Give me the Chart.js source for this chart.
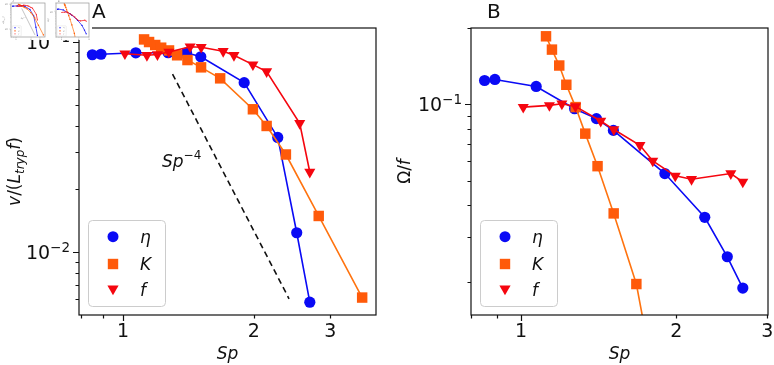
<!DOCTYPE html>
<html>
<head>
<meta charset="utf-8">
<script src="https://cdn.jsdelivr.net/npm/chart.js@4.4.1/dist/chart.umd.min.js"></script>
<style>
  body { margin: 0; background: #fff; }
  #wrap { position: relative; width: 774px; height: 365px; overflow: hidden; }
  .panel { position: absolute; top: 0; width: 387px; height: 365px; }
  #thumbs { position: absolute; left: 0; top: 0; width: 92px; height: 40px; background: #fff; }
  #thumbs canvas { position: absolute; top: 0; }
</style>
</head>
<body>
<div id="wrap">
  <div class="panel" style="left:0"><canvas id="chartA" width="387" height="365"></canvas></div>
  <div class="panel" style="left:387px"><canvas id="chartB" width="387" height="365"></canvas></div>
  <div id="thumbs">
    <canvas id="miniA" width="46" height="40" style="left:0"></canvas>
    <canvas id="miniB" width="46" height="40" style="left:46px"></canvas>
  </div>
</div>
<script>
// --- data ---
const etaSp = [0.85, 0.89, 1.07, 1.27, 1.40, 1.51, 1.90, 2.27, 2.51, 2.69];
const etaSpeed = [0.0870, 0.0875, 0.0889, 0.0890, 0.0889, 0.0851, 0.0641, 0.0352, 0.0124, 0.0058];
const etaOmega = [0.1242, 0.1254, 0.1177, 0.0962, 0.0879, 0.0790, 0.0534, 0.0359, 0.0251, 0.0189];

const kSp = [1.118, 1.148, 1.186, 1.224, 1.276, 1.332, 1.407, 1.512, 1.673, 1.99, 2.14, 2.37, 2.82, 3.55];
const kSpeed = [0.1029, 0.1000, 0.0968, 0.0940, 0.0912, 0.0865, 0.0821, 0.0758, 0.0672, 0.0479, 0.0399, 0.0292, 0.0149, 0.0061];
const kOmega = [0.1855, 0.1644, 0.1423, 0.1195, 0.0976, 0.0767, 0.0571, 0.0372, 0.0196, 0.0030, 0.0022, 0.0016, 0.0010, 0.0006];

const fSp = [1.01, 1.135, 1.20, 1.275, 1.427, 1.513, 1.70, 1.80, 1.99, 2.14, 2.55, 2.69];
const fSpeed = [0.0880, 0.0865, 0.0872, 0.0897, 0.0950, 0.0945, 0.0904, 0.0865, 0.0781, 0.0724, 0.0411, 0.0241];
const fOmega = [0.0976, 0.0991, 0.1006, 0.0982, 0.0860, 0.0796, 0.0690, 0.0599, 0.0523, 0.0507, 0.0534, 0.0495];

// Sp^-4 guide line (panel A)
const guideSp = [1.30, 2.41];
const guideSpeed = [0.0704, 0.00602];

const seriesNames = ["η", "K", "f"];

// ticks
const xTicksA = [0.8, 0.9, 1, 2, 3];
const xTicksB = [0.8, 0.9, 1, 2, 3];
const xTickLabels = { 1: "1", 2: "2", 3: "3" };
const yTicksA = [0.006, 0.007, 0.008, 0.009, 0.01, 0.02, 0.03, 0.04, 0.05, 0.06, 0.07, 0.08, 0.09, 0.1];
const yTicksB = [0.02, 0.03, 0.04, 0.05, 0.06, 0.07, 0.08, 0.09, 0.1, 0.2];
const yTickLabels = { 0.01: "−2", 0.1: "−1" };

const FONT = '"DejaVu Sans", "Liberation Sans", sans-serif';
const BLUE = "#0a0af5";
const ORANGE = "#ff5a0a";
const ORANGE_LINE = "#ff730f";
const RED = "#f5060f";

function pairs(xs, ys) {
  return xs.map((v, i) => ({ x: v, y: ys[i] }));
}

function setFont(ctx, size, italic) {
  ctx.font = (italic ? "italic " : "") + size + "px " + FONT;
}

// parts: [text, size, italic, rise]; k scales everything (1 = full figure)
function drawRich(ctx, parts, x, y, align, k) {
  let total = 0;
  parts.forEach((p) => {
    setFont(ctx, p[1] * k, p[2]);
    total += ctx.measureText(p[0]).width;
  });
  let cx = align === "center" ? x - total / 2 : align === "right" ? x - total : x;
  parts.forEach((p) => {
    setFont(ctx, p[1] * k, p[2]);
    ctx.fillText(p[0], cx, y - (p[3] || 0) * k);
    cx += ctx.measureText(p[0]).width;
  });
}

function marker(ctx, style, x, y, k) {
  ctx.beginPath();
  if (style === "circle") {
    ctx.arc(x, y, 5.5 * k, 0, Math.PI * 2);
  } else if (style === "rect") {
    ctx.rect(x - 5.2 * k, y - 5.2 * k, 10.4 * k, 10.4 * k);
  } else {
    ctx.moveTo(x - 5.6 * k, y - 4.5 * k);
    ctx.lineTo(x + 5.6 * k, y - 4.5 * k);
    ctx.lineTo(x, y + 5.2 * k);
    ctx.closePath();
  }
  ctx.fill();
}

const axesDecor = {
  id: "axesDecor",
  afterDraw(chart, args, o) {
    const { ctx, chartArea: a } = chart;
    const xs = chart.scales.x;
    const ys = chart.scales.y;
    const k = o.k;
    ctx.save();
    ctx.strokeStyle = o.frameColor;
    ctx.fillStyle = "#111";
    ctx.lineWidth = 1.2 * (k < 1 ? 0.6 : 1);
    ctx.strokeRect(a.left, a.top, a.right - a.left, a.bottom - a.top);

    ctx.beginPath();
    o.xTicks.forEach((v) => {
      const px = k < 1 ? xs.getPixelForValue(v) : Math.round(xs.getPixelForValue(v)) + 0.5;
      const len = (v === 1 ? 6 : 3.5) * k;
      ctx.moveTo(px, a.bottom);
      ctx.lineTo(px, a.bottom + len);
    });
    o.yTicks.forEach((v) => {
      const py = k < 1 ? ys.getPixelForValue(v) : Math.round(ys.getPixelForValue(v)) + 0.5;
      const len = (v === 0.01 || v === 0.1 ? 6 : 3.5) * k;
      ctx.moveTo(a.left, py);
      ctx.lineTo(a.left - len, py);
    });
    ctx.stroke();

    ctx.fillStyle = o.textColor;
    ctx.textAlign = "left";
    ctx.textBaseline = "alphabetic";
    o.xTicks.forEach((v) => {
      if (!xTickLabels[v]) return;
      drawRich(ctx, [[xTickLabels[v], 19, false]], xs.getPixelForValue(v), a.bottom + 22 * k, "center", k);
    });
    o.yTicks.forEach((v) => {
      if (!yTickLabels[v]) return;
      const py = ys.getPixelForValue(v);
      drawRich(ctx, [["10", 19, false], [yTickLabels[v], 13.5, false, 7]], a.left - 9 * k, py + 7 * k, "right", k);
    });

    // axis titles
    drawRich(ctx, [["Sp", 17, true]], (a.left + a.right) / 2, a.bottom + 44 * k, "center", k);
    ctx.save();
    ctx.translate(a.left - o.yTitleDx * k, (a.top + a.bottom) / 2);
    ctx.rotate(-Math.PI / 2);
    drawRich(ctx, o.yTitle, 0, 0, "center", k);
    ctx.restore();

    // panel letter
    drawRich(ctx, [[o.letter, 20, false]], a.left + o.letterDx * k, a.top - 10 * k, "left", k);

    // annotation
    if (o.note) drawRich(ctx, o.note.parts, a.left + o.note.dx * k, a.top + o.note.dy * k, "left", k);

    // legend
    const lx = a.left + 9 * k;
    const ly = a.bottom - 95 * k;
    ctx.beginPath();
    ctx.roundRect(lx + 0.5 * k, ly + 0.5 * k, 77 * k, 86 * k, 4 * k);
    ctx.fillStyle = "rgba(255,255,255,0.8)";
    ctx.fill();
    ctx.strokeStyle = "#cccccc";
    ctx.lineWidth = k < 1 ? 0.3 : 1;
    ctx.stroke();
    const styles = ["circle", "rect", "triangle"];
    const colors = [BLUE, ORANGE, RED];
    const rows = [16.7, 44, 70];
    seriesNames.forEach((name, i) => {
      ctx.fillStyle = colors[i];
      marker(ctx, styles[i], lx + 25 * k, ly + rows[i] * k, k);
      ctx.fillStyle = o.textColor;
      drawRich(ctx, [[name, 17, true]], lx + 52 * k, ly + (rows[i] + 6) * k, "left", k);
    });
    ctx.restore();
  }
};

function seriesDatasets(etaY, kY, fY, k) {
  const lw = k < 1 ? 0.7 : 1.6;
  return [
    {
      data: pairs(etaSp, etaY), borderColor: BLUE, backgroundColor: BLUE,
      borderWidth: lw, pointStyle: "circle", pointRadius: 5.6 * k, pointBorderWidth: 0, order: 3
    },
    {
      data: pairs(kSp, kY), borderColor: ORANGE_LINE, backgroundColor: ORANGE,
      borderWidth: lw, pointStyle: "rect", pointRadius: 7.4 * k, pointBorderWidth: 0, order: 2
    },
    {
      data: pairs(fSp, fY), borderColor: RED, backgroundColor: RED,
      borderWidth: lw, pointStyle: "triangle", pointRotation: 180, pointRadius: 6.4 * k, pointBorderWidth: 0, order: 1
    }
  ];
}

function guideDataset(k) {
  return {
    data: pairs(guideSp, guideSpeed), borderColor: k < 1 ? "#888" : "#111", borderWidth: k < 1 ? 0.5 : 1.6,
    borderDash: k < 1 ? [] : [6, 4], pointRadius: 0, order: 4
  };
}

function makeChart(id, cfg) {
  return new Chart(document.getElementById(id), {
    type: "line",
    data: { datasets: cfg.datasets },
    options: {
      responsive: false,
      animation: false,
      events: [],
      layout: { padding: { left: 0, top: cfg.padTop, right: cfg.padRight, bottom: 0 }, autoPadding: false },
      plugins: { legend: { display: false }, tooltip: { enabled: false }, axesDecor: cfg.decor },
      scales: {
        x: {
          type: "logarithmic", min: cfg.xMin, max: cfg.xMax,
          grid: { display: false, drawTicks: false }, border: { display: false },
          ticks: { display: false },
          afterFit: (s) => { s.height = cfg.xHeight; }
        },
        y: {
          type: "logarithmic", min: cfg.yMin, max: cfg.yMax,
          grid: { display: false, drawTicks: false }, border: { display: false },
          ticks: { display: false },
          afterFit: (s) => { s.width = cfg.yWidth; }
        }
      }
    },
    plugins: [axesDecor]
  });
}

const titleA = [["v", 17, true], ["/(", 17, false], ["L", 17, true], ["tryp", 12, true, -4], ["f", 17, true], [")", 17, false]];
const titleB = [["Ω", 17, false], ["/", 17, false], ["f", 17, true]];
const noteA = { dx: 83, dy: 139, parts: [["Sp", 17, true], ["−4", 12, false, 8]] };

function decorA(k) {
  return {
    k, xTicks: xTicksA, yTicks: yTicksA, letter: "A", letterDx: 13, yTitleDx: 59,
    yTitle: titleA, note: noteA, frameColor: k < 1 ? "#999" : "#111", textColor: k < 1 ? "#777" : "#111"
  };
}
function decorB(k) {
  return {
    k, xTicks: xTicksB, yTicks: yTicksB, letter: "B", letterDx: 16, yTitleDx: 61,
    yTitle: titleB, frameColor: k < 1 ? "#999" : "#111", textColor: k < 1 ? "#777" : "#111"
  };
}

makeChart("chartA", {
  datasets: seriesDatasets(etaSpeed, kSpeed, fSpeed, 1).concat([guideDataset(1)]),
  xMin: 0.792, xMax: 3.82, yMin: 0.00504, yMax: 0.1166,
  padTop: 28, padRight: 11, yWidth: 79, xHeight: 50, decor: decorA(1)
});

makeChart("chartB", {
  datasets: seriesDatasets(etaOmega, kOmega, fOmega, 1),
  xMin: 0.80, xMax: 3.01, yMin: 0.0148, yMax: 0.20,
  padTop: 28, padRight: 6, yWidth: 84, xHeight: 50, decor: decorB(1)
});

// small preview copies sitting in the top-left corner of the figure
const KT = 0.118;
makeChart("miniA", {
  datasets: seriesDatasets(etaSpeed, kSpeed, fSpeed, KT).concat([guideDataset(KT)]),
  xMin: 0.792, xMax: 3.82, yMin: 0.00504, yMax: 0.1166,
  padTop: 3, padRight: 1, yWidth: 11, xHeight: 3, decor: decorA(KT)
});
makeChart("miniB", {
  datasets: seriesDatasets(etaOmega, kOmega, fOmega, KT),
  xMin: 0.80, xMax: 3.01, yMin: 0.0148, yMax: 0.20,
  padTop: 3, padRight: 3, yWidth: 10, xHeight: 3, decor: decorB(KT)
});
</script>
</body>
</html>
